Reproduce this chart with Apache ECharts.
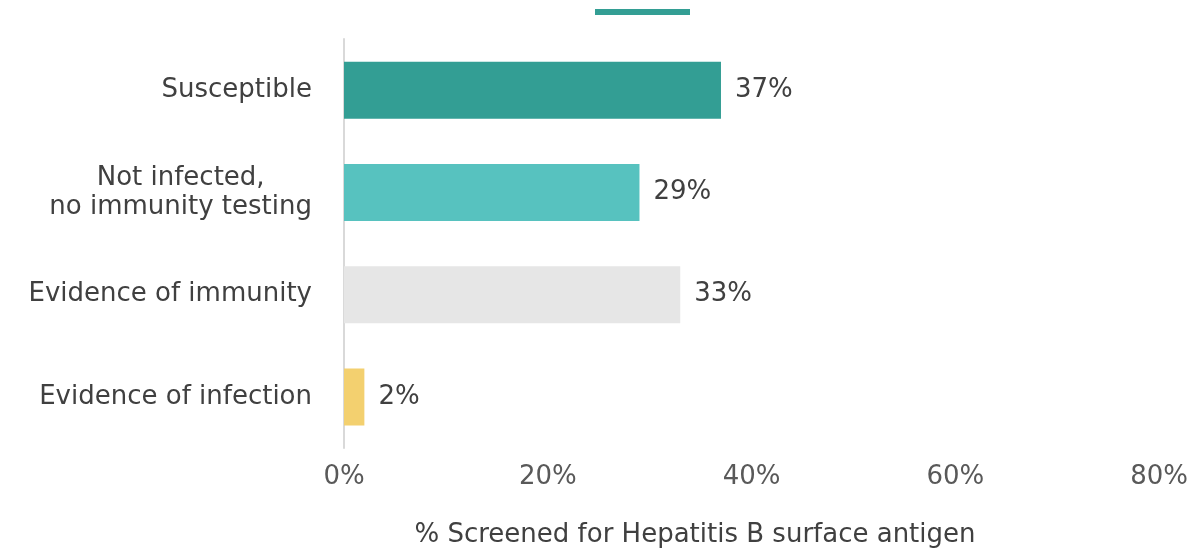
<!DOCTYPE html>
<html>
<head>
<meta charset="utf-8">
<script src="https://cdn.jsdelivr.net/npm/echarts@6/dist/echarts.min.js"></script>
<style>
  html, body { margin: 0; padding: 0; background: #ffffff; }
  #chart { width: 1191px; height: 549px; }
</style>
</head>
<body>
<div id="chart"></div>
<script>
// Hepatitis B screening outcomes, share of people screened
const categories = [
  'Susceptible',
  'Not infected,\nno immunity testing',
  'Evidence of immunity',
  'Evidence of infection'
];
const values = [37, 29, 33, 2];
const barColors = ['#339E94', '#57C2BF', '#E6E6E6', '#F3D06F'];
const tickValues = [0, 20, 40, 60, 80];
const axisTitle = '% Screened for Hepatitis B surface antigen';

const FONT = 'DejaVu Sans';
const SIZE = 26;
const TEXT = '#404040';

const chart = echarts.init(document.getElementById('chart'), null, { renderer: 'canvas' });

chart.setOption({
  animation: false,
  backgroundColor: '#ffffff',
  grid: { left: 344, right: 30, top: 39, bottom: 101, containLabel: false },
  xAxis: {
    type: 'value',
    min: tickValues[0],
    max: tickValues[tickValues.length - 1],
    interval: 20,
    axisLine: { show: false },
    axisTick: { show: false },
    splitLine: { show: false },
    axisLabel: {
      color: '#595959',
      fontFamily: FONT,
      fontSize: SIZE,
      margin: 16,
      formatter: v => v + '%'
    }
  },
  yAxis: {
    type: 'category',
    inverse: true,
    data: categories,
    axisLine: { show: true, lineStyle: { color: '#D9D9D9', width: 2 } },
    axisTick: { show: false },
    axisLabel: {
      margin: 32,
      formatter: v => v.split('\n').map(s => '{c|' + s + '}').join('\n'),
      rich: {
        c: { color: TEXT, fontFamily: FONT, fontSize: SIZE, lineHeight: 29, align: 'center' }
      }
    }
  },
  series: [{
    type: 'bar',
    data: values.map((v, i) => ({ value: v, itemStyle: { color: barColors[i] } })),
    barWidth: 57,
    label: {
      show: true,
      position: 'right',
      distance: 14,
      color: TEXT,
      fontFamily: FONT,
      fontSize: SIZE,
      formatter: p => p.value + '%'
    }
  }],
  graphic: [
    {
      type: 'rect',
      shape: { x: 595, y: 9, width: 95, height: 6 },
      style: { fill: '#339E94' }
    },
    {
      type: 'text',
      x: 695,
      y: 535,
      style: {
        text: axisTitle,
        fill: TEXT,
        font: SIZE + 'px "DejaVu Sans"',
        textAlign: 'center',
        textVerticalAlign: 'middle'
      }
    }
  ]
});
</script>
</body>
</html>
